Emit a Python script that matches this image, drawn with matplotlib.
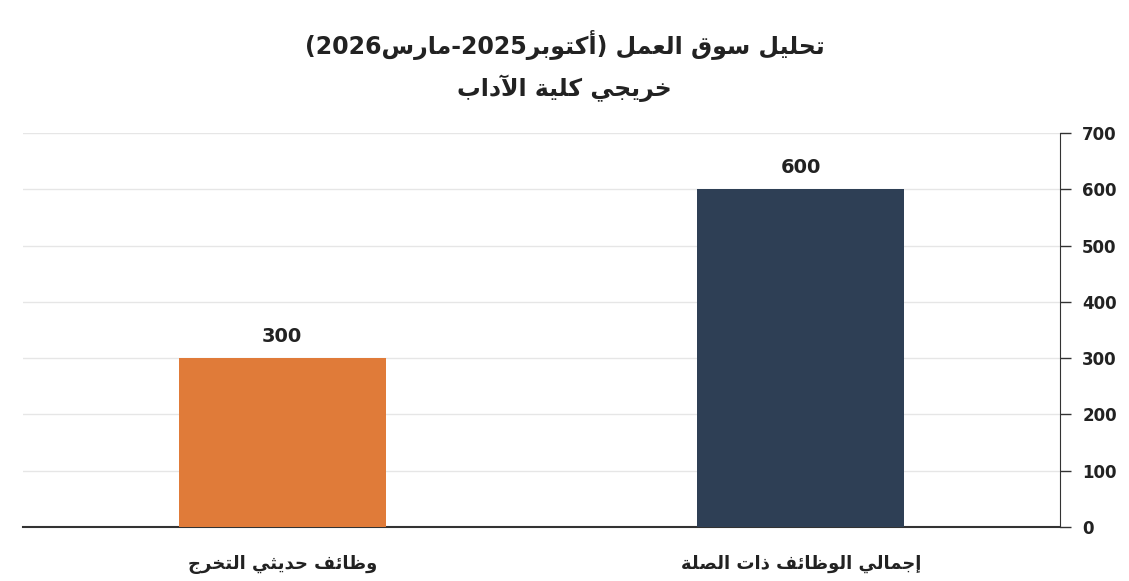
import matplotlib
matplotlib.use("Agg")
import matplotlib.pyplot as plt

# data (logical order, right-to-left reading: first category sits on the right)
title = "تحليل سوق العمل (أكتوبر2025-مارس2026)"
subtitle = "خريجي كلية الآداب"
categories = ["إجمالي الوظائف ذات الصلة", "وظائف حديثي التخرج"]
values = [600, 300]
colors = ["#2E3F55", "#E07B39"]
y_ticks = [0, 100, 200, 300, 400, 500, 600, 700]

# --- minimal arabic shaping + rtl ordering (matplotlib has no text shaping) ---
# letter: (isolated, final, initial, medial); 2-tuple = joins only to the right
FORMS = {
    "ا": (0xFE8D, 0xFE8E), "أ": (0xFE83, 0xFE84), "إ": (0xFE87, 0xFE88),
    "آ": (0xFE81, 0xFE82), "ة": (0xFE93, 0xFE94), "د": (0xFEA9, 0xFEAA),
    "ذ": (0xFEAB, 0xFEAC), "ر": (0xFEAD, 0xFEAE), "ز": (0xFEAF, 0xFEB0),
    "و": (0xFEED, 0xFEEE), "ى": (0xFEEF, 0xFEF0),
    "ب": (0xFE8F, 0xFE90, 0xFE91, 0xFE92), "ت": (0xFE95, 0xFE96, 0xFE97, 0xFE98),
    "ث": (0xFE99, 0xFE9A, 0xFE9B, 0xFE9C), "ج": (0xFE9D, 0xFE9E, 0xFE9F, 0xFEA0),
    "ح": (0xFEA1, 0xFEA2, 0xFEA3, 0xFEA4), "خ": (0xFEA5, 0xFEA6, 0xFEA7, 0xFEA8),
    "س": (0xFEB1, 0xFEB2, 0xFEB3, 0xFEB4), "ش": (0xFEB5, 0xFEB6, 0xFEB7, 0xFEB8),
    "ص": (0xFEB9, 0xFEBA, 0xFEBB, 0xFEBC), "ض": (0xFEBD, 0xFEBE, 0xFEBF, 0xFEC0),
    "ط": (0xFEC1, 0xFEC2, 0xFEC3, 0xFEC4), "ظ": (0xFEC5, 0xFEC6, 0xFEC7, 0xFEC8),
    "ع": (0xFEC9, 0xFECA, 0xFECB, 0xFECC), "غ": (0xFECD, 0xFECE, 0xFECF, 0xFED0),
    "ف": (0xFED1, 0xFED2, 0xFED3, 0xFED4), "ق": (0xFED5, 0xFED6, 0xFED7, 0xFED8),
    "ك": (0xFED9, 0xFEDA, 0xFEDB, 0xFEDC), "ل": (0xFEDD, 0xFEDE, 0xFEDF, 0xFEE0),
    "م": (0xFEE1, 0xFEE2, 0xFEE3, 0xFEE4), "ن": (0xFEE5, 0xFEE6, 0xFEE7, 0xFEE8),
    "ه": (0xFEE9, 0xFEEA, 0xFEEB, 0xFEEC), "ي": (0xFEF1, 0xFEF2, 0xFEF3, 0xFEF4),
    "ئ": (0xFE89, 0xFE8A, 0xFE8B, 0xFE8C),
}
LAM_ALEF = {"آ": (0xFEF5, 0xFEF6), "أ": (0xFEF7, 0xFEF8),
            "إ": (0xFEF9, 0xFEFA), "ا": (0xFEFB, 0xFEFC)}


def shape(text):
    # merge lam + alef into one unit first
    units = []
    i = 0
    while i < len(text):
        if text[i] == "ل" and i + 1 < len(text) and text[i + 1] in LAM_ALEF:
            units.append(("LA", text[i + 1]))
            i += 2
        else:
            units.append(("C", text[i]))
            i += 1

    def joins_fwd(u):  # can connect to the following letter
        return u[0] == "C" and u[1] in FORMS and len(FORMS[u[1]]) == 4

    def is_letter(u):
        return u[0] == "LA" or u[1] in FORMS

    out = []
    for k, u in enumerate(units):
        prev_j = k > 0 and joins_fwd(units[k - 1]) and is_letter(u)
        if u[0] == "LA":
            f = LAM_ALEF[u[1]]
            out.append(chr(f[1] if prev_j else f[0]))
            continue
        ch = u[1]
        if ch not in FORMS:
            out.append(ch)
            continue
        f = FORMS[ch]
        next_j = (len(f) == 4 and k + 1 < len(units) and is_letter(units[k + 1]))
        if len(f) == 2:
            out.append(chr(f[1] if prev_j else f[0]))
        elif prev_j and next_j:
            out.append(chr(f[3]))
        elif prev_j:
            out.append(chr(f[1]))
        elif next_j:
            out.append(chr(f[2]))
        else:
            out.append(chr(f[0]))
    s = "".join(out)

    # visual order: reverse everything, keep digit runs left-to-right
    tokens = []
    for ch in s:
        if ch.isdigit() and tokens and tokens[-1].isdigit():
            tokens[-1] += ch
        else:
            tokens.append(ch)
    mirror = {"(": ")", ")": "("}
    return "".join(mirror.get(t, t) for t in reversed(tokens))


plt.rcParams["font.family"] = ["DejaVu Sans"]

fig = plt.figure(figsize=(11.29, 5.81), dpi=100)
ax = fig.add_axes([0.0204, 0.093, 0.9185, 0.678])

x = list(range(len(categories)))
bars = ax.bar(x, values, width=0.4, color=colors, zorder=3)
for xi, v in zip(x, values):
    ax.text(xi, v + 22, str(v), ha="center", va="bottom",
            fontsize=14, fontweight="bold", color="#222222", zorder=4)

ax.set_xlim(-0.5, 1.5)
ax.invert_xaxis()
ax.set_ylim(0, 700)
ax.set_yticks(y_ticks)
ax.yaxis.tick_right()
ax.tick_params(axis="y", direction="out", length=8, width=1, color="#333333",
               labelsize=12, labelcolor="#222222", pad=8)
for lab in ax.get_yticklabels():
    lab.set_fontweight("bold")
ax.set_xticks(x)
ax.set_xticklabels([shape(c) for c in categories], fontsize=13,
                   fontweight="bold", color="#222222")
ax.tick_params(axis="x", length=0, pad=20)

ax.grid(axis="y", color="#E6E6E6", linewidth=1, zorder=0)
for side in ["top", "left"]:
    ax.spines[side].set_visible(False)
ax.spines["right"].set_color("#333333")
ax.spines["bottom"].set_color("#333333")
ax.spines["bottom"].set_linewidth(1.5)

fig.text(0.5, 1 - 45 / 581, shape(title), ha="center", va="center",
         fontsize=17, fontweight="bold", color="#222222")
fig.text(0.5, 1 - 88 / 581, shape(subtitle), ha="center", va="center",
         fontsize=17, fontweight="bold", color="#222222")

fig.savefig("out.png", dpi=100, facecolor="white")
